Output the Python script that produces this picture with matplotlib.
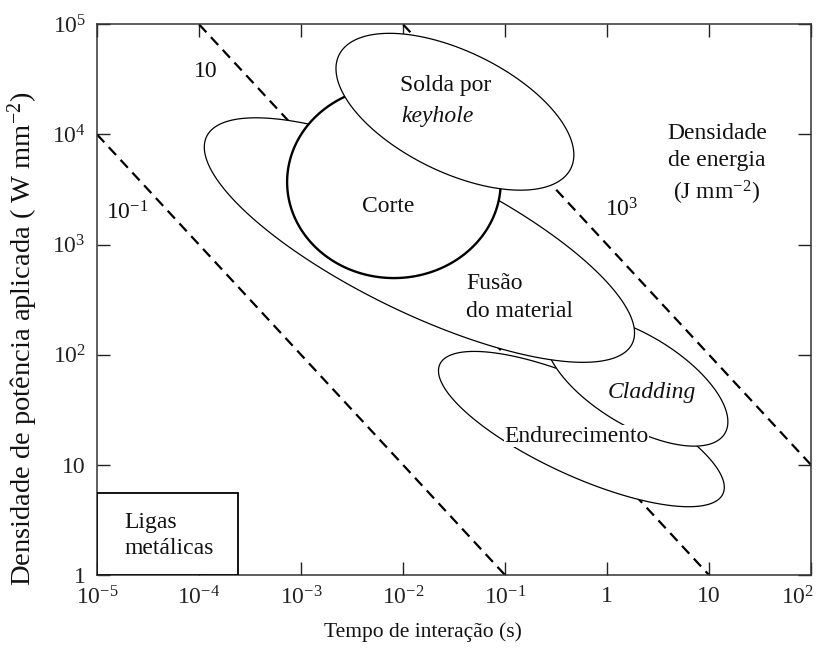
import numpy as np
import matplotlib
matplotlib.use("Agg")
import matplotlib.pyplot as plt
import matplotlib.transforms as mtransforms
from matplotlib.patches import Rectangle

plt.rcParams['font.family'] = ['Liberation Serif', 'DejaVu Serif']
plt.rcParams['mathtext.fontset'] = 'custom'
plt.rcParams['mathtext.rm'] = 'Liberation Serif'
plt.rcParams['mathtext.it'] = 'Liberation Serif:italic'
plt.rcParams['mathtext.bf'] = 'Liberation Serif:bold'

# ---------------- data ----------------
x_ticks = [1e-5, 1e-4, 1e-3, 1e-2, 1e-1, 1, 10, 1e2]
x_labels = ['$10^{-5}$', '$10^{-4}$', '$10^{-3}$', '$10^{-2}$', '$10^{-1}$', '1', '10', '$10^{2}$']
y_ticks = [1, 10, 1e2, 1e3, 1e4, 1e5]
y_labels = ['1', '10', '$10^{2}$', '$10^{3}$', '$10^{4}$', '$10^{5}$']

energy_density = [1e-1, 10, 1e3]           # J mm^-2  (P * t = const)
energy_labels = ['$10^{-1}$', '10', '$10^{3}$']

# process regions (ellipses in log10 space), drawn bottom -> top
regions = ['Endurecimento', 'Cladding', 'Fusão', 'Corte', 'Solda']
center_log_t = [-0.251, 0.290, -1.839, -2.089, -1.491]
center_log_P = [1.325, 1.769, 3.041, 3.568, 4.206]
half_width_dec = [1.401, 0.895, 2.109, 1.047, 1.166]
half_height_dec = [0.705, 0.599, 1.110, 0.872, 0.712]
tilt_corr = [-0.75, -0.63, -0.76, 0.0, -0.55]
line_widths = [0.9, 0.9, 0.9, 1.7, 0.9]

alloy_t_max = 2.43e-4
alloy_P_max = 5.55

# ---------------- figure ----------------
fig = plt.figure(figsize=(8.25, 6.51), dpi=100)
W, H = 825, 651
ax = fig.add_axes([97 / W, (H - 575) / H, (811 - 97) / W, (575 - 24.3) / H])
ax.set_xscale('log')
ax.set_yscale('log')
ax.set_xlim(1e-5, 1e2)
ax.set_ylim(1, 1e5)

# energy density lines
t = np.logspace(-5, 2, 400)
for E in energy_density:
    ax.plot(t, E / t, color='black', lw=1.6, ls=(0, (4.8, 3.0)), zorder=2)

# ellipses
s = np.linspace(0, 2 * np.pi, 600)
for i, name in enumerate(regions):
    r = tilt_corr[i]
    u = center_log_t[i] + half_width_dec[i] * np.cos(s)
    v = center_log_P[i] + half_height_dec[i] * (r * np.cos(s) + np.sqrt(1 - r * r) * np.sin(s))
    ax.fill(10 ** u, 10 ** v, facecolor='white', edgecolor='black',
            lw=line_widths[i], zorder=3 + i)

# alloy box
ax.add_patch(Rectangle((1e-5, 1), alloy_t_max - 1e-5, alloy_P_max - 1,
                       facecolor='white', edgecolor='black', lw=1.3, zorder=3))

fs = 17
txt = dict(color='#111111', zorder=20)
ax.text(10 ** -1.578, 10 ** 4.44, 'Solda por', fontsize=fs, ha='center', va='center', **txt)
ax.text(10 ** -1.657, 10 ** 4.167, 'keyhole', fontsize=fs, style='italic', ha='center', va='center', **txt)
ax.text(10 ** -2.148, 10 ** 3.35, 'Corte', fontsize=fs, ha='center', va='center', **txt)
ax.text(10 ** -1.381, 10 ** 2.65, 'Fusão', fontsize=fs, ha='left', va='center', **txt)
ax.text(10 ** -1.381, 10 ** 2.396, 'do material', fontsize=fs, ha='left', va='center', **txt)
ax.text(10 ** 0.437, 10 ** 1.66, 'Cladding', fontsize=fs, style='italic', ha='center', va='center', **txt)
ax.text(10 ** -0.300, 10 ** 1.261, 'Endurecimento', fontsize=fs, ha='center', va='center',
        bbox=dict(facecolor='white', edgecolor='none', pad=0.5), **txt)

label_pos = [(-4.705, 3.286), (-3.93, 4.567), (0.143, 3.314)]
for lab, (lu, lv) in zip(energy_labels, label_pos):
    ax.text(10 ** lu, 10 ** lv, lab, fontsize=fs, ha='center', va='center', **txt)

ax.text(10 ** 1.077, 10 ** 4.013, 'Densidade', fontsize=fs, ha='center', va='center', **txt)
ax.text(10 ** 1.077, 10 ** 3.767, 'de energia', fontsize=fs, ha='center', va='center', **txt)
ax.text(10 ** 1.077, 10 ** 3.468, '(J mm$^{-2}$)', fontsize=fs, ha='center', va='center', **txt)

ax.text(10 ** -4.735, 10 ** 0.48, 'Ligas', fontsize=fs, ha='left', va='center', **txt)
ax.text(10 ** -4.735, 10 ** 0.244, 'metálicas', fontsize=fs, ha='left', va='center', **txt)

# axes styling
ax.xaxis.set_major_locator(matplotlib.ticker.FixedLocator(x_ticks))
ax.xaxis.set_major_formatter(matplotlib.ticker.FixedFormatter(x_labels))
ax.yaxis.set_major_locator(matplotlib.ticker.FixedLocator(y_ticks))
ax.yaxis.set_major_formatter(matplotlib.ticker.FixedFormatter(y_labels))
ax.xaxis.set_minor_locator(matplotlib.ticker.NullLocator())
ax.yaxis.set_minor_locator(matplotlib.ticker.NullLocator())
ax.tick_params(which='major', direction='in', length=9.5, width=1.0,
               top=True, right=True, labelsize=17, pad=8, colors='#222222')
for sp in ax.spines.values():
    sp.set_linewidth(1.1)
    sp.set_color('#333333')

# shift the last x tick label slightly left so it stays inside the figure
last = ax.get_xticklabels()[-1]
last.set_transform(last.get_transform() + mtransforms.ScaledTranslation(-10 / 72, 0, fig.dpi_scale_trans))

fig.text(423 / W, 1 - 632 / H, 'Tempo de interação (s)', fontsize=15.5,
         ha='center', va='center', color='#111111')
fig.text(23 / W, 1 - 339 / H, 'Densidade de potência aplicada ( W mm$^{-2}$)', fontsize=20.5,
         rotation=90, ha='center', va='center', color='#111111')

fig.savefig('out.png', dpi=100)
